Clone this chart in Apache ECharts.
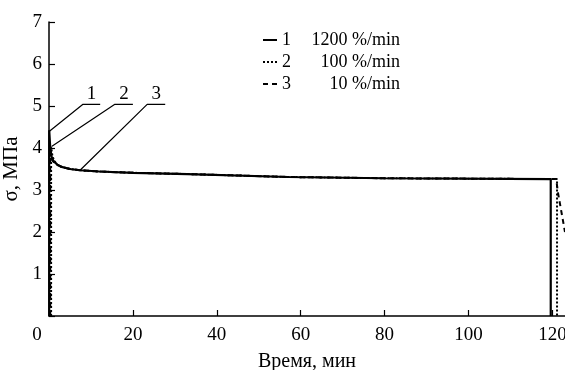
<!DOCTYPE html>
<html style="height: 100%">
<head>
<meta charset="utf-8">
<title>σ(t)</title>
</head>
<body style="height: 100%; margin: 0; background: #fff">
<div id="container" style="width: 565px; height: 370px"></div>
<script type="text/javascript" src="https://cdn.jsdelivr.net/npm/echarts@6/dist/echarts.min.js"></script>
<script type="text/javascript">
var seriesNames = ['1200 %/min', '100 %/min', '10 %/min'];
var seriesNums = ['1', '2', '3'];
var xTicks = [0, 20, 40, 60, 80, 100, 120];
var yTicks = [0, 1, 2, 3, 4, 5, 6, 7];

// curve 1 - solid
var curve1 = [
    [0.05, 0], [0.05, 4.42], [0.3, 4.0], [0.6, 3.8], [1, 3.7], [2, 3.6], [3, 3.55],
    [5, 3.5], [7.4, 3.47], [12, 3.44], [20, 3.41], [33, 3.38], [57, 3.31],
    [80, 3.28], [119.6, 3.26], [119.6, 0]
];
// curve 2 - dotted
var curve2 = [
    [0.5, 0], [0.5, 4.03], [0.8, 3.82], [1.2, 3.7], [2, 3.6], [3, 3.55],
    [5, 3.5], [7.4, 3.47], [12, 3.44], [20, 3.41], [33, 3.38], [57, 3.31],
    [80, 3.28], [121.1, 3.26], [121.1, 0]
];
// curve 3 - dashed
var curve3 = [
    [0.3, 0], [0.3, 3.8], [1, 3.68], [2, 3.6], [3, 3.55],
    [5, 3.5], [7.4, 3.47], [12, 3.44], [20, 3.41], [33, 3.38], [57, 3.31],
    [80, 3.28], [120.9, 3.26], [121.3, 2.95], [123, 2.0]
];
// leader lines for numbers 1,2,3 : start point, elbow, end of underline
var lead1 = [[0.1, 4.4], [8.1, 5.04], [12.2, 5.04]];
var lead2 = [[0.7, 4.04], [15.7, 5.04], [20.0, 5.04]];
var lead3 = [[7.4, 3.47], [23.4, 5.04], [27.7, 5.04]];

var dom = document.getElementById('container');
var myChart = echarts.init(dom);
var font = 'Liberation Serif';

function leaderSeries(pts, num) {
    var mid = [(pts[1][0] + pts[2][0]) / 2, pts[1][1]];
    return {
        type: 'line',
        name: 'lead' + num,
        silent: true,
        symbolSize: 0,
        showSymbol: true,
        lineStyle: { color: '#000', width: 1.2 },
        data: [pts[0], pts[1], {
            value: mid,
            label: { show: true, position: 'top', distance: 1, formatter: num,
                     color: '#000', fontFamily: font, fontSize: 19 }
        }, pts[2]],
        z: 1
    };
}

var option = {
    backgroundColor: '#fff',
    animation: false,
    textStyle: { fontFamily: font },
    grid: { left: 49, right: 0, top: 22, bottom: 54, outerBoundsMode: 'none', containLabel: false },
    legend: {
        orient: 'vertical',
        left: 257,
        top: 26,
        itemWidth: 14,
        itemHeight: 12,
        itemGap: 4,
        data: seriesNames,
        itemStyle: { color: 'rgba(0,0,0,0)', borderWidth: 0 },
        textStyle: {
            color: '#000',
            fontFamily: font,
            fontSize: 18,
            rich: {
                n: { width: 22, align: 'left', fontSize: 18, fontFamily: font },
                v: { width: 96, align: 'right', fontSize: 18, fontFamily: font }
            }
        },
        formatter: function (name) {
            var i = seriesNames.indexOf(name);
            return '{n|' + seriesNums[i] + '}{v|' + name + '}';
        }
    },
    xAxis: {
        type: 'value',
        min: 0,
        max: 123,
        interval: 20,
        name: 'Время, мин',
        nameLocation: 'middle',
        nameGap: 36,
        nameTextStyle: { color: '#000', fontSize: 20, fontFamily: font },
        axisLine: { lineStyle: { color: '#000', width: 1.5 } },
        axisTick: { inside: true, length: 6, lineStyle: { color: '#000', width: 1.2 } },
        axisLabel: {
            color: '#000', fontSize: 19, fontFamily: font, margin: 10,
            showMaxLabel: false,
            formatter: function (v) {
                if (xTicks.indexOf(v) < 0) return '';
                if (v === 0) return '{z|0}';
                return String(v);
            },
            rich: { z: { padding: [0, 24, 0, 0], fontSize: 19, fontFamily: font, color: '#000' } }
        },
        splitLine: { show: false }
    },
    yAxis: {
        type: 'value',
        min: 0,
        max: 7,
        interval: 1,
        name: 'σ, МПа',
        nameLocation: 'middle',
        nameGap: 22,
        nameTextStyle: { color: '#000', fontSize: 21, fontFamily: font },
        axisLine: { show: true, lineStyle: { color: '#000', width: 1.5 } },
        axisTick: { show: true, inside: true, length: 6, lineStyle: { color: '#000', width: 1.2 } },
        axisLabel: {
            color: '#000', fontSize: 19, fontFamily: font, margin: 7,
            formatter: function (v) {
                if (v === 0 || yTicks.indexOf(v) < 0) return '';
                return String(v);
            }
        },
        splitLine: { show: false }
    },
    series: [
        {
            name: seriesNames[0], type: 'line', showSymbol: false, symbol: 'none',
            lineStyle: { color: '#000', width: 2.2, type: 'solid' },
            itemStyle: { color: '#000' },
            data: curve1, z: 4
        },
        {
            name: seriesNames[1], type: 'line', showSymbol: false, symbol: 'none',
            lineStyle: { color: '#000', width: 2, type: [2, 2] },
            itemStyle: { color: '#000' },
            data: curve2, z: 3
        },
        {
            name: seriesNames[2], type: 'line', showSymbol: false, symbol: 'none',
            lineStyle: { color: '#000', width: 2, type: [5, 4] },
            itemStyle: { color: '#000' },
            data: curve3, z: 2
        },
        leaderSeries(lead1, '1'),
        leaderSeries(lead2, '2'),
        leaderSeries(lead3, '3')
    ]
};
if (option && typeof option === 'object') {
    myChart.setOption(option, true);
}
</script>
</body>
</html>
